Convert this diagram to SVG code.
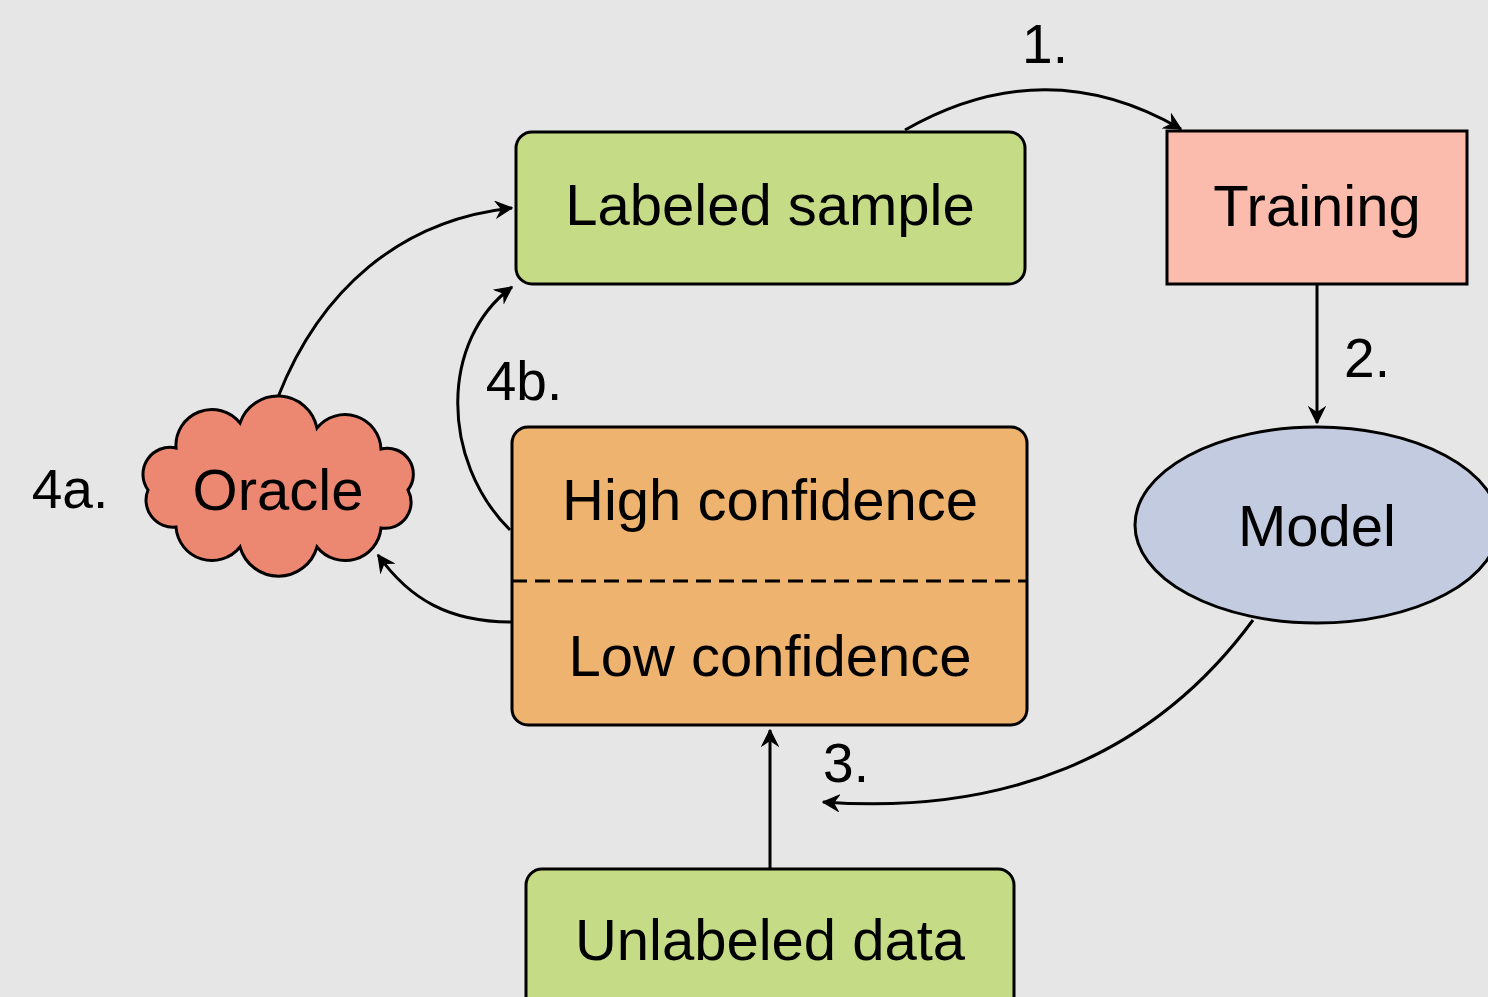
<svg xmlns="http://www.w3.org/2000/svg" width="1488" height="997" viewBox="0 0 1488 997">
<style>
.t{font-family:"Liberation Sans",Arial,sans-serif;font-size:58px;fill:#000;text-anchor:middle}
.n{font-family:"Liberation Sans",Arial,sans-serif;font-size:55px;fill:#000;text-anchor:middle}
.b{stroke:#000;stroke-width:3}
.c{fill:none;stroke:#000;stroke-width:3}
</style>
<defs>
<marker id="ah" markerUnits="userSpaceOnUse" markerWidth="18" markerHeight="18" viewBox="0 0 14 14" refX="13" refY="7" orient="auto">
<path d="M1,1 L13,7 L1,13 L5,7 Z" fill="#000" stroke="#000" stroke-width="1" stroke-linejoin="miter"/>
</marker>
</defs>
<rect x="0" y="0" width="1488" height="997" fill="#e6e6e6"/>
<g id="connectors">
<path class="c" d="M905,130 Q1045,50 1181,129" marker-end="url(#ah)"/>
<path class="c" d="M1317,284 L1317,423" marker-end="url(#ah)"/>
<path class="c" d="M1253,620 C1150,760 1000,815 823,802" marker-end="url(#ah)"/>
<path class="c" d="M770,869 L770,730" marker-end="url(#ah)"/>
<path class="c" d="M511,622 C450,622 410,600 378,555" marker-end="url(#ah)"/>
<path class="c" d="M278,397 C320,290 400,220 512,208" marker-end="url(#ah)"/>
<path class="c" d="M510,530 C440,460 440,340 512,287" marker-end="url(#ah)"/>
</g>
<g id="labeled-sample">
<rect class="b" x="516" y="132" width="509" height="152" rx="16" fill="#c5db85"/>
<text class="t" x="770" y="225">Labeled sample</text>
</g>
<g id="training">
<rect class="b" x="1167" y="131" width="300" height="153" fill="#fbbcae"/>
<text class="t" x="1317" y="226">Training</text>
</g>
<g id="model">
<ellipse class="b" cx="1317" cy="525" rx="182" ry="98" fill="#c2cbdf"/>
<text class="t" x="1317" y="546">Model</text>
</g>
<g id="confidence">
<rect class="b" x="512" y="427" width="515" height="298" rx="16" fill="#eeb36f"/>
<line x1="512" y1="581" x2="1027" y2="581" stroke="#000" stroke-width="3" stroke-dasharray="15,8"/>
<text class="t" x="770" y="520">High confidence</text>
<text class="t" x="770" y="676">Low confidence</text>
</g>
<g id="unlabeled-data">
<rect class="b" x="526" y="869" width="488" height="150" rx="16" fill="#c5db85"/>
<text class="t" x="770" y="960">Unlabeled data</text>
</g>
<g id="oracle">
<path class="b" fill="#ec8871" d="M176,448 A36,36 0 0 1 240,423 A40,40 0 0 1 317,428 A36,36 0 0 1 381,449 A26,26 0 0 1 408,490 A26,26 0 0 1 381,528 A36,36 0 0 1 317,547 A40,40 0 0 1 240,547 A36,36 0 0 1 176,527 A27,27 0 0 1 148,490 A27,27 0 0 1 176,448 Z"/>
<text class="t" x="278" y="510">Oracle</text>
</g>
<g id="step-labels">
<text class="n" x="1045" y="63">1.</text>
<text class="n" x="1367" y="377">2.</text>
<text class="n" x="846" y="782">3.</text>
<text class="n" x="70" y="508">4a.</text>
<text class="n" x="524" y="400">4b.</text>
</g>
</svg>
